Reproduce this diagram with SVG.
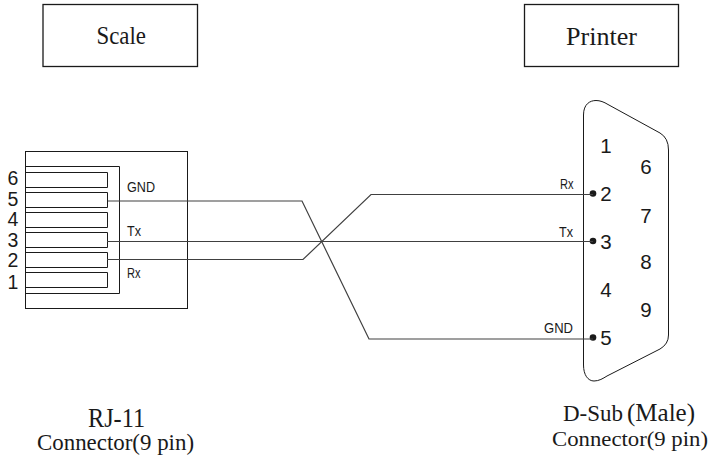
<svg xmlns="http://www.w3.org/2000/svg" width="711" height="458" viewBox="0 0 711 458">
<style>
.b{fill:none;stroke:#1a1a1a;stroke-width:1}
.h{fill:none;stroke:#1a1a1a;stroke-width:1.300}
.w{fill:none;stroke:#404040;stroke-width:1.200}
.s{font-family:"Liberation Serif",serif;fill:#1a1a1a}
.a{font-family:"Liberation Sans",sans-serif;fill:#1a1a1a}
.lb{font-size:15px}
.pin{font-size:20.500px}
.pr{font-size:19.500px}
</style>
<rect width="711" height="458" fill="#fff"/>
<g id="scale"><rect class="h" x="43" y="4.500" width="154.500" height="62"/><text class="s" x="96.500" y="44" font-size="25" textLength="49.500" lengthAdjust="spacingAndGlyphs">Scale</text></g>
<g id="printer"><rect class="h" x="524.500" y="4.500" width="154" height="62"/><text class="s" x="566" y="45" font-size="26" textLength="71" lengthAdjust="spacingAndGlyphs">Printer</text></g>
<g id="rj11">
<rect class="b" x="25.500" y="151.500" width="162" height="157"/>
<path class="b" d="M25.500 166.500H119.500V293.500H25.500"/>
<path class="b" d="M25.500 172.500H107.500V187.500H25.500M25.500 192.500H107.500V207.500H25.500M25.500 212.500H107.500V227.500H25.500M25.500 232.500H107.500V247.500H25.500M25.500 252.500H107.500V267.500H25.500M25.500 272.500H107.500V287.500H25.500"/>
<g class="a pr" text-anchor="middle"><text x="13" y="185">6</text><text x="13" y="206">5</text><text x="13" y="226">4</text><text x="13" y="246.500">3</text><text x="13" y="266.500">2</text><text x="13" y="289">1</text></g>
<g class="a lb"><text x="127" y="192" textLength="28" lengthAdjust="spacingAndGlyphs">GND</text><text x="127" y="236" textLength="14" lengthAdjust="spacingAndGlyphs">Tx</text><text x="127" y="278" textLength="13.500" lengthAdjust="spacingAndGlyphs">Rx</text></g>
<text class="s" x="88" y="426.500" font-size="27" textLength="57" lengthAdjust="spacingAndGlyphs">RJ-11</text>
<text class="s" x="37" y="450" font-size="23" textLength="157" lengthAdjust="spacingAndGlyphs">Connector(9 pin)</text>
</g>
<g id="dsub">
<path class="b" d="M583.500 115C583.500 104 590 100.500 596 100.500C600 100.500 604 102 608 104.500L660 133Q668.500 138 668.500 150V335Q668.500 344 660 349L607 376C603 378.500 599 381 594 381C588 381 583.500 375 583.500 365Z"/>
<g fill="#1a1a1a"><circle cx="593" cy="193.500" r="3.300"/><circle cx="593" cy="241" r="3.300"/><circle cx="593" cy="337.500" r="3.300"/></g>
<g class="a pin" text-anchor="middle"><text x="606" y="153">1</text><text x="606" y="201">2</text><text x="606" y="248.500">3</text><text x="606" y="297">4</text><text x="606" y="345">5</text><text x="646" y="173.500">6</text><text x="646" y="223">7</text><text x="646" y="269">8</text><text x="646" y="317">9</text></g>
<g class="a lb"><text x="560" y="189" textLength="13.500" lengthAdjust="spacingAndGlyphs">Rx</text><text x="559" y="237" textLength="14" lengthAdjust="spacingAndGlyphs">Tx</text><text x="544" y="333" textLength="29" lengthAdjust="spacingAndGlyphs">GND</text></g>
<text class="s" x="563" y="420.500" font-size="23">D-Sub</text><text class="s" x="627" y="420.500" font-size="25" textLength="68" lengthAdjust="spacingAndGlyphs">(Male)</text>
<text class="s" x="552" y="446" font-size="22" textLength="156" lengthAdjust="spacingAndGlyphs">Connector(9 pin)</text>
</g>
<g id="connectors">
<path class="w" d="M108 201H302L369 339H593"/>
<path class="w" d="M107 241.500H593"/>
<path class="w" d="M107 259.500H303L371 194.500H593"/>
</g>
</svg>
